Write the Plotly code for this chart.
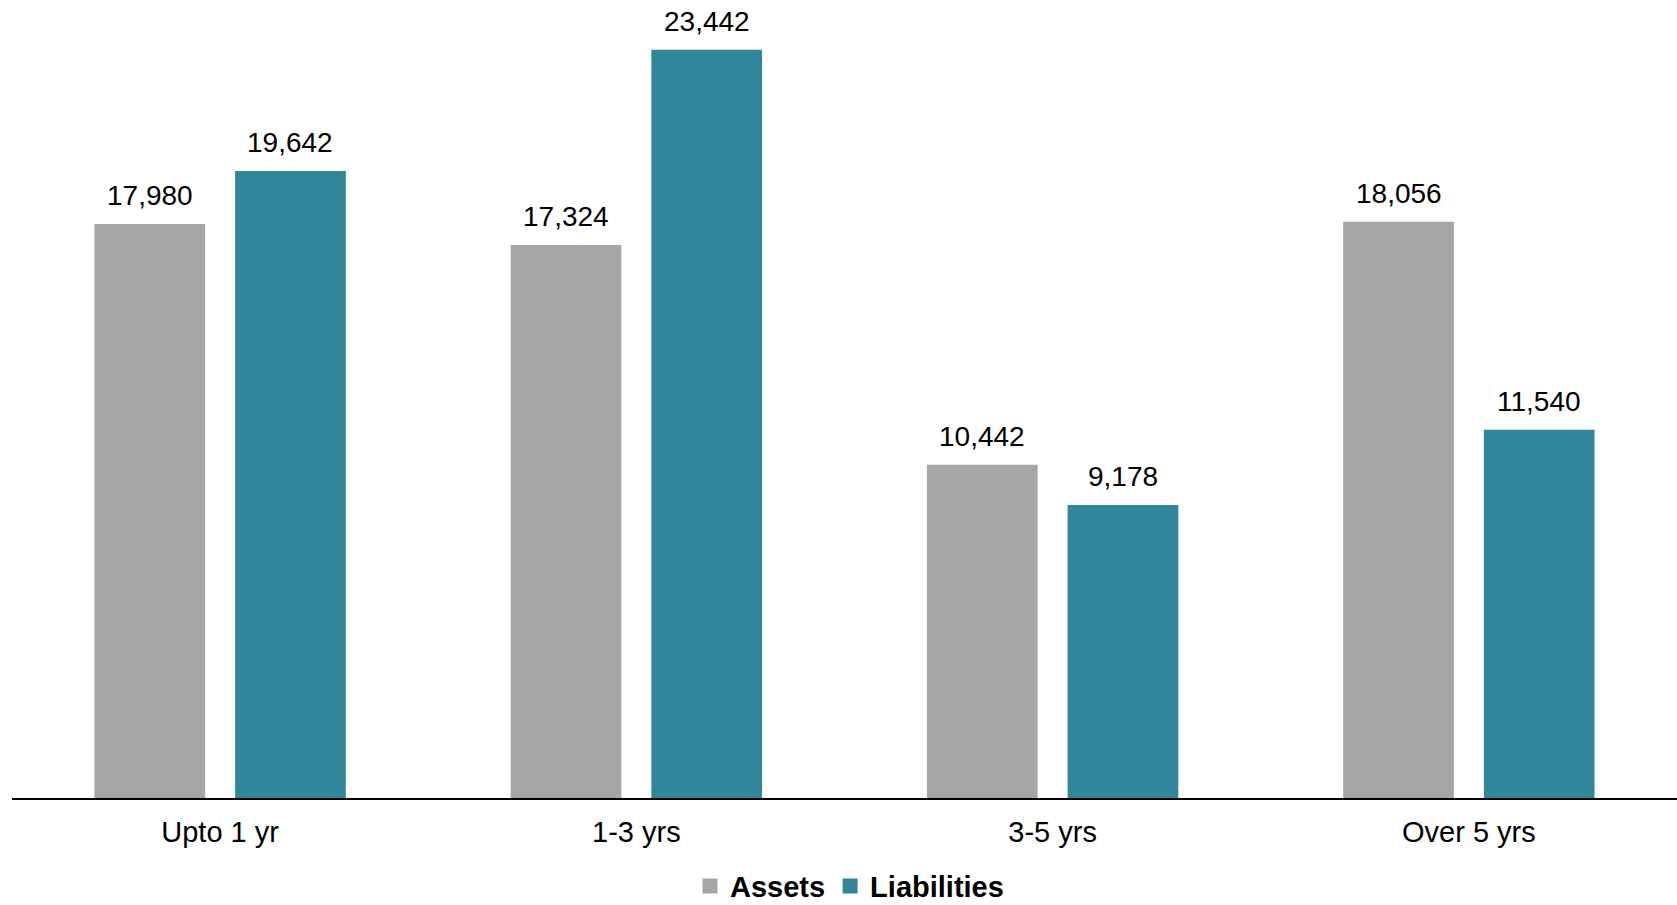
import plotly.graph_objects as go

categories = ["Upto 1 yr", "1-3 yrs", "3-5 yrs", "Over 5 yrs"]
assets = [17980, 17324, 10442, 18056]
liabilities = [19642, 23442, 9178, 11540]

FONT = "Liberation Sans, Arial, sans-serif"
GRAY = "#A6A6A6"
TEAL = "#31869B"

fig = go.Figure()
fig.add_trace(go.Bar(name="Assets", x=categories, y=assets, marker_color=GRAY,
                     marker_line_width=0, showlegend=False))
fig.add_trace(go.Bar(name="Liabilities", x=categories, y=liabilities, marker_color=TEAL,
                     marker_line_width=0, showlegend=False))

# legend entries with square swatches
for name, col in [("Assets", GRAY), ("Liabilities", TEAL)]:
    fig.add_trace(go.Scatter(name=name, x=[categories[0]], y=[None], mode="markers",
                             marker=dict(symbol="square", size=15, color=col)))

# data labels
for vals, shift in [(assets, -70.35), (liabilities, 70.35)]:
    for c, v in zip(categories, vals):
        fig.add_annotation(x=c, y=v, text=f"{v:,}", showarrow=False,
                           xshift=shift, yshift=11, yanchor="bottom",
                           font=dict(family=FONT, size=28, color="black"))

fig.update_layout(
    width=1677, height=905,
    margin=dict(l=12, r=0, t=0, b=107, autoexpand=False),
    paper_bgcolor="white", plot_bgcolor="white",
    barmode="group", bargap=0.324, bargroupgap=0.213,
    font=dict(family=FONT, color="black"),
    showlegend=True,
    legend=dict(orientation="h", x=0.503, xanchor="center", y=-0.1105, yanchor="middle",
                font=dict(family=FONT, size=29, color="black", weight="bold"),
                itemwidth=30, traceorder="normal"),
    xaxis=dict(showline=True, linecolor="black", linewidth=2, ticks="",
               ticklabelstandoff=7, automargin=False,
               tickfont=dict(family=FONT, size=29, color="black"), showgrid=False),
    yaxis=dict(range=[0, 25000], visible=False, showgrid=False, zeroline=False,
               automargin=False),
)

fig.write_html("out.html", config={"displayModeBar": False},
               post_script="document.body.style.margin='0';document.body.style.overflow='hidden';")
